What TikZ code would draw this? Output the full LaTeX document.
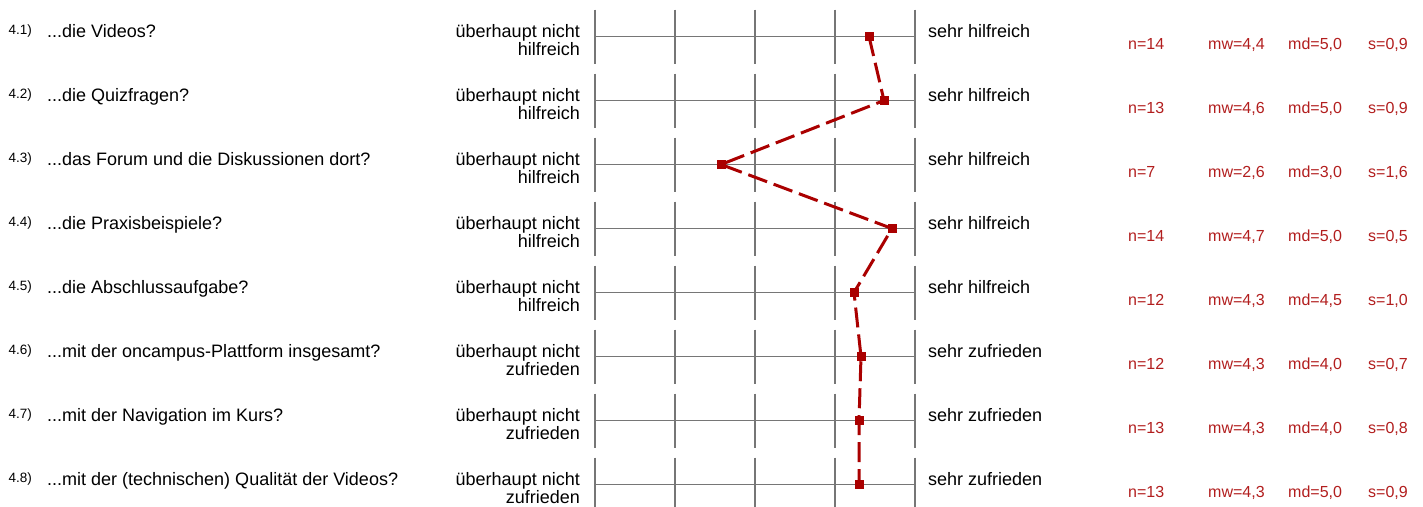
\documentclass[tikz,border=0pt]{standalone}
\usepackage{fontspec}
\setmainfont{Liberation Sans}
\usepackage{tikz}
\usetikzlibrary{calc,positioning}
\definecolor{mwrot}{RGB}{170,0,0}
\definecolor{statrot}{RGB}{178,30,30}
\definecolor{gittergrau}{RGB}{118,118,118}
\tikzset{
  gitter/.style={gittergrau,line width=1.5pt},
  verbindung/.style={mwrot,line width=3pt,dash pattern=on 20pt off 7pt},
  marke/.style={rectangle,fill=mwrot,minimum size=9pt,inner sep=0pt},
  nummer/.style={anchor=base west,inner sep=0pt,font=\fontsize{13.5}{14}\selectfont},
  frage/.style={anchor=base west,inner sep=0pt,font=\fontsize{18}{19}\selectfont},
  pollinks/.style={anchor=base east,inner sep=0pt,font=\fontsize{18}{19}\selectfont},
  polrechts/.style={anchor=base west,inner sep=0pt,font=\fontsize{18}{19}\selectfont},
  statistik/.style={anchor=base west,inner sep=0pt,statrot,font=\fontsize{16}{17}\selectfont}
}
\begin{document}
\begin{tikzpicture}[x=1pt,y=-1pt]
  \useasboundingbox (0,0) rectangle (1423,506);
%Skala: 1 bei x=595, 5 bei x=915, Zeilenabstand 64
  \pgfmathsetmacro{\xa}{595}
  \pgfmathsetmacro{\dx}{80}
\foreach \nr/\frage/\pol/\polr/\xm/\n/\mw/\md/\s in {
  1/{...die Videos?}/hilfreich/{sehr hilfreich}/869/14/{4,4}/{5,0}/{0,9},
  2/{...die Quizfragen?}/hilfreich/{sehr hilfreich}/884/13/{4,6}/{5,0}/{0,9},
  3/{...das Forum und die Diskussionen dort?}/hilfreich/{sehr hilfreich}/721/7/{2,6}/{3,0}/{1,6},
  4/{...die Praxisbeispiele?}/hilfreich/{sehr hilfreich}/892/14/{4,7}/{5,0}/{0,5},
  5/{...die Abschlussaufgabe?}/hilfreich/{sehr hilfreich}/854/12/{4,3}/{4,5}/{1,0},
  6/{...mit der oncampus-Plattform insgesamt?}/zufrieden/{sehr zufrieden}/861/12/{4,3}/{4,0}/{0,7},
  7/{...mit der Navigation im Kurs?}/zufrieden/{sehr zufrieden}/859/13/{4,3}/{4,0}/{0,8},
  8/{...mit der (technischen) Qualität der Videos?}/zufrieden/{sehr zufrieden}/859/13/{4,3}/{5,0}/{0,9}}{
  \pgfmathsetmacro{\y}{36.5+64*(\nr-1)}
  \foreach \k in {0,...,4}{
    \draw[gitter] (\xa+\k*\dx,\y-27) -- (\xa+\k*\dx,\y+27);
  }
  \draw[gitter] (\xa,\y) -- (\xa+4*\dx,\y);
  \node[nummer] (num\nr) at (8.5,\y-2) {4.\nr)};
  \node[frage] (fr\nr) at (47,\y+0.5) {\frage};
  \node[pollinks] (lo\nr) at (580,\y+0.5) {überhaupt nicht};
  \node[pollinks] (lu\nr) at (580,\y+19) {\pol};
  \node[polrechts] (re\nr) at (928,\y+0.5) {\polr};
  \node[statistik] (n\nr) at (1128,\y+12.5) {n=\n};
  \node[statistik] (mw\nr) at (1208,\y+12.5) {mw=\mw};
  \node[statistik] (md\nr) at (1288,\y+12.5) {md=\md};
  \node[statistik] (s\nr) at (1368,\y+12.5) {s=\s};
  \coordinate (p\nr) at (\xm,\y);
}
%Profillinie
\draw[verbindung] (p1) \foreach \i in {2,...,8}{ -- (p\i)};
\foreach \i in {1,...,8}{
  \node[marke] (m\i) at (p\i) {};
}
\end{tikzpicture}
\end{document}
